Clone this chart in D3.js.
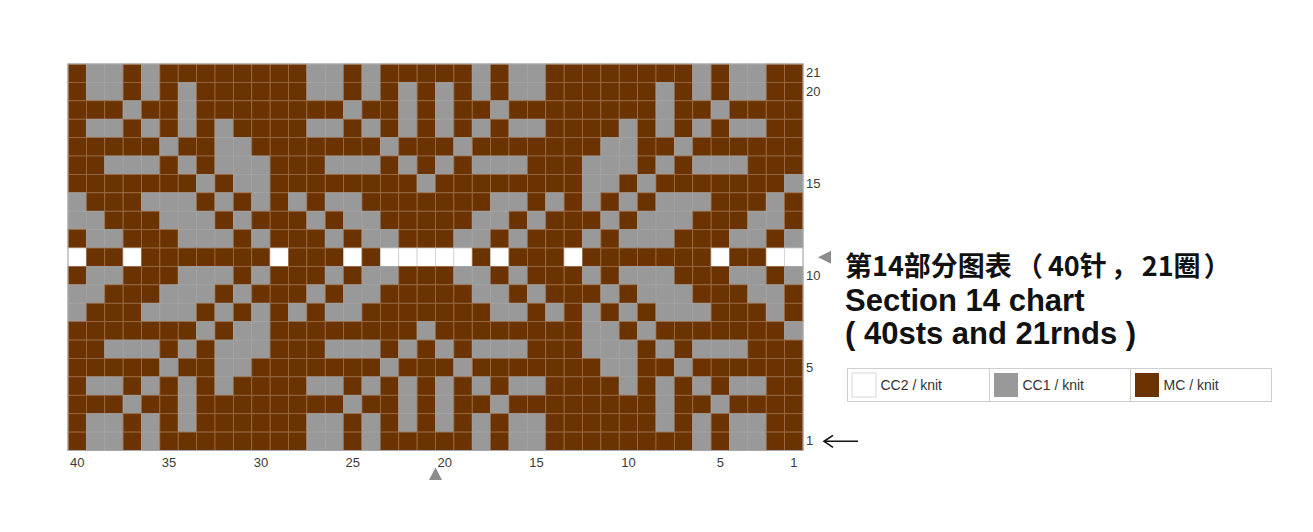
<!DOCTYPE html>
<html>
<head>
<meta charset="utf-8">
<script src="https://cdn.jsdelivr.net/npm/d3@7"></script>
<style>
  html, body { margin: 0; padding: 0; background: #ffffff; }
  svg { display: block; }
</style>
</head>
<body>
<svg id="chart" width="1313" height="532"></svg>
<script>
// ---- data ----
// stitch columns, numbered right-to-left as in the chart
const columns = d3.range(40, 0, -1);            // 40 ... 1
// rounds, top row first
const rounds = d3.range(21, 0, -1);             // 21 ... 1
// chart rows (round 21 at top). Each string lists stitches col 40 -> col 1.
// M = MC (brown), G = CC1 (gray), W = CC2 (white)
const chartRows = [
  "MGGMGMMMMM" + "MMMGGMGMMM" + "MMGMGGMMMM" + "MMMMGMGGMM", // 21
  "MGGMGMGMMM" + "MMMGGMGMGM" + "GMGMGGMMMM" + "MMGMGMGGMM", // 20
  "MMMGMMGMMM" + "MMMMMGMMGM" + "GMMGMMMMMM" + "MMGMMGMMMM", // 19
  "MGGMGMGMGM" + "MMMGGMGMGM" + "GMGMGGMMMM" + "GMGMGMGGMM", // 18
  "MMMMMGMMGG" + "MMMMMMMGMM" + "MGMMMMMMMG" + "GMMGMMMMMM", // 17
  "MMGGGMGMGG" + "GMMMGGGMGM" + "GMGGGMMMGG" + "GMGMGGGMMM", // 16
  "MMMMMMMGMG" + "GMMMMMMMMG" + "MMMMMMMMGG" + "MGMMMMMMMG", // 15
  "GMMMGGGMGM" + "GMGMGGMMMM" + "MMMGGMGMGM" + "GMGGGMMMGM", // 14
  "GGMMMGGGMG" + "MMMGMGGMMM" + "MMGGMGMMMG" + "MGGGMMMGGM", // 13
  "MGGMMMGGGM" + "GMMMGMGGMM" + "MGGMGMMMGM" + "GGGMMMGGMG", // 12
  "WMMWMMMMMM" + "MWMMMWMWWW" + "WWMWMMMWMM" + "MMMMMWMMWW", // 11
  "MGGMMMGGGM" + "GMMMGMGGMM" + "MGGMGMMMGM" + "GGGMMMGGMG", // 10
  "GGMMMGGGMG" + "MMMGMGGMMM" + "MMGGMGMMMG" + "MGGGMMMGGM", // 9
  "GMMMGGGMGM" + "GMGMGGMMMM" + "MMMGGMGMGM" + "GMGGGMMMGM", // 8
  "MMMMMMMGMG" + "GMMMMMMMMG" + "MMMMMMMMGG" + "MGMMMMMMMG", // 7
  "MMGGGMGMGG" + "GMMMGGGMGM" + "GMGGGMMMGG" + "GMGMGGGMMM", // 6
  "MMMMMGMMGG" + "MMMMMMMGMM" + "MGMMMMMMMG" + "GMMGMMMMMM", // 5
  "MGGMGMGMGM" + "MMMGGMGMGM" + "GMGMGGMMMM" + "GMGMGMGGMM", // 4
  "MMMGMMGMMM" + "MMMMMGMMGM" + "GMMGMMMMMM" + "MMGMMGMMMM", // 3
  "MGGMGMGMMM" + "MMMGGMGMGM" + "GMGMGGMMMM" + "MMGMGMGGMM", // 2
  "MGGMGMMMMM" + "MMMGGMGMMM" + "MMGMGGMMMM" + "MMMMGMGGMM"  // 1
];
const colTicks = [40, 35, 30, 25, 20, 15, 10, 5, 1];
const rowTicks = [21, 20, 15, 10, 5, 1];
const legendKeys = ["W", "G", "M"];
const legendLabels = ["CC2 / knit", "CC1 / knit", "MC / knit"];
// Chinese title split into runs so the full-width punctuation keeps its spacing
const titleCnParts = ["第14部分图表", "（", "40针", "，", "21圈", "）"];
const titleLines = ["Section 14 chart", "( 40sts and 21rnds )"];
const centerColumnEdge = 20;   // centre marker sits at the left edge of stitch 20
const centerRound = 11;        // centre marker for rounds
const startRound = 1;          // arrow marks the first round

// ---- styles ----
const fillColor = { M: "#6b3302", G: "#999999", W: "#ffffff" };
const lineColor = { M: "#9b6a44", G: "#a2a2a2", W: "#d0d0d0" };
const latin = "'Liberation Sans', Arial, Helvetica, sans-serif";
const cjk = "'Noto Sans CJK SC', 'Liberation Sans', sans-serif";

const svg = d3.select("#chart");

const x = d3.scaleBand().domain(columns).range([68, 803]).padding(0);
const y = d3.scaleBand().domain(rounds).range([64, 450.5]).padding(0);

// flatten cells
const cells = [];
chartRows.forEach((str, i) => {
  const rnd = rounds[i];
  str.split("").forEach((k, j) => cells.push({ round: rnd, col: columns[j], key: k }));
});

const grid = svg.append("g");
grid.selectAll("rect.cell")
  .data(cells)
  .join("rect")
  .attr("class", "cell")
  .attr("x", d => x(d.col))
  .attr("y", d => y(d.round))
  .attr("width", x.bandwidth())
  .attr("height", y.bandwidth())
  .attr("fill", d => fillColor[d.key])
  .attr("stroke", d => lineColor[d.key])
  .attr("stroke-width", 0.8);

// outer border
grid.append("rect")
  .attr("x", x.range()[0])
  .attr("y", y.range()[0])
  .attr("width", x.range()[1] - x.range()[0])
  .attr("height", y.range()[1] - y.range()[0])
  .attr("fill", "none")
  .attr("stroke", "#a9a9a9")
  .attr("stroke-width", 1);

// right axis (round numbers)
const yAxis = svg.append("g")
  .attr("transform", `translate(${x.range()[1]},0)`)
  .call(d3.axisRight(y).tickValues(rowTicks).tickSize(0).tickPadding(3));
yAxis.select(".domain").remove();
yAxis.selectAll("text")
  .attr("font-family", latin)
  .attr("font-size", 13)
  .attr("fill", "#3a3a3a");

// bottom axis (stitch numbers)
const xAxis = svg.append("g")
  .attr("transform", `translate(0,${y.range()[1]})`)
  .call(d3.axisBottom(x).tickValues(colTicks).tickSize(0).tickPadding(7));
xAxis.select(".domain").remove();
xAxis.selectAll("text")
  .attr("font-family", latin)
  .attr("font-size", 13)
  .attr("fill", "#3a3a3a");

// centre markers
const cx = x(centerColumnEdge);
const by = y.range()[1] + 17;
svg.append("path")
  .attr("d", `M${cx},${by} L${cx + 6.5},${by + 12.5} L${cx - 6.5},${by + 12.5} Z`)
  .attr("fill", "#8c8c8c");

const cy = y(centerRound) + y.bandwidth() / 2;
const rx = x.range()[1] + 15;
svg.append("path")
  .attr("d", `M${rx},${cy} L${rx + 13},${cy - 6.5} L${rx + 13},${cy + 6.5} Z`)
  .attr("fill", "#8c8c8c");

// start arrow
const ay = y(startRound) + y.bandwidth() / 2;
const ax0 = x.range()[1] + 21, ax1 = x.range()[1] + 55;
svg.append("line")
  .attr("x1", ax0 + 1).attr("x2", ax1)
  .attr("y1", ay).attr("y2", ay)
  .attr("stroke", "#111").attr("stroke-width", 1.6);
svg.append("path")
  .attr("d", `M${ax0 + 9},${ay - 6} L${ax0},${ay} L${ax0 + 9},${ay + 6}`)
  .attr("fill", "none").attr("stroke", "#111").attr("stroke-width", 1.6);

// title
const tx = 845;
const partGap = [0, 4, 5, 4, 4, 3];
svg.append("text")
  .attr("x", tx).attr("y", 276)
  .attr("font-family", cjk).attr("font-weight", "bold").attr("font-size", 27)
  .attr("fill", "#111")
  .selectAll("tspan")
  .data(titleCnParts)
  .join("tspan")
  .attr("dx", (d, i) => partGap[i])
  .text(d => d);
svg.append("text")
  .attr("x", tx).attr("y", 311)
  .attr("font-family", latin).attr("font-weight", "bold").attr("font-size", 31)
  .attr("fill", "#111")
  .text(titleLines[0]);
svg.append("text")
  .attr("x", tx).attr("y", 344)
  .attr("font-family", latin).attr("font-weight", "bold").attr("font-size", 31)
  .attr("fill", "#111")
  .text(titleLines[1]);

// legend
const lgX = 847.5, lgY = 368.5, lgW = 424, lgH = 33;
const cellEdges = [lgX, 989.5, 1130.5, lgX + lgW];
const lg = svg.append("g");
lg.append("rect")
  .attr("x", lgX).attr("y", lgY).attr("width", lgW).attr("height", lgH)
  .attr("fill", "#fff").attr("stroke", "#cfcfcf").attr("stroke-width", 1);
lg.selectAll("line.div")
  .data(cellEdges.slice(1, 3))
  .join("line")
  .attr("class", "div")
  .attr("x1", d => d).attr("x2", d => d)
  .attr("y1", lgY).attr("y2", lgY + lgH)
  .attr("stroke", "#cfcfcf");
const items = lg.selectAll("g.item")
  .data(legendKeys.map((k, i) => ({ key: k, label: legendLabels[i], x0: cellEdges[i] })))
  .join("g")
  .attr("class", "item");
items.append("rect")
  .attr("x", d => d.x0 + 4.5).attr("y", lgY + 4.5)
  .attr("width", 24).attr("height", 24)
  .attr("fill", d => fillColor[d.key])
  .attr("stroke", d => d.key === "W" ? "#d6d6d6" : "none");
items.append("text")
  .attr("x", d => d.x0 + 33).attr("y", lgY + 21.5)
  .attr("font-family", latin).attr("font-size", 14)
  .attr("fill", "#333")
  .text(d => d.label);
</script>
</body>
</html>
